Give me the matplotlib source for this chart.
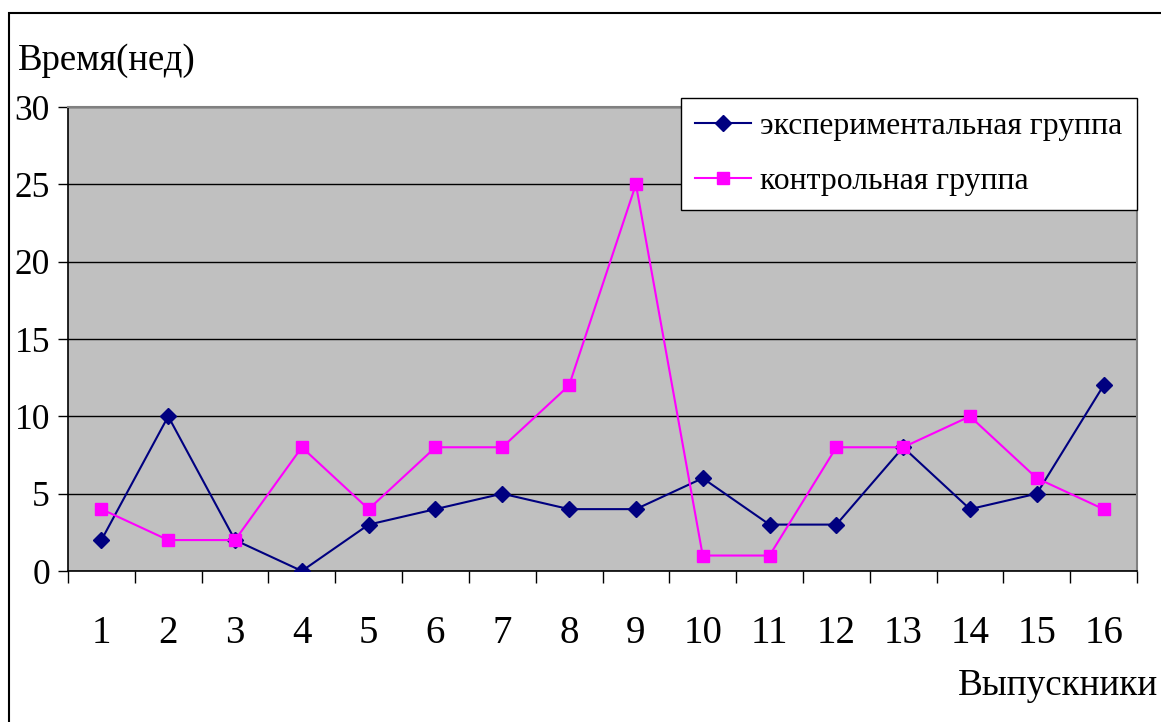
import matplotlib
matplotlib.use("Agg")
import matplotlib.pyplot as plt
from matplotlib.patches import Rectangle
from matplotlib.ticker import FixedLocator

graduates = list(range(1, 17))
experimental = [2, 10, 2, 0, 3, 4, 5, 4, 4, 6, 3, 3, 8, 4, 5, 12]
control = [4, 2, 2, 8, 4, 8, 8, 12, 25, 1, 1, 8, 8, 10, 6, 4]
y_ticks = [0, 5, 10, 15, 20, 25, 30]

plt.rcParams["font.family"] = ["Liberation Serif", "DejaVu Serif"]

W, H = 1161, 722
fig = plt.figure(figsize=(W / 100, H / 100), dpi=100)
fig.patch.set_facecolor("white")

# outer chart frame
fig.patches.append(Rectangle((9 / W, -0.1), 2.0, (H - 13) / H + 0.1,
                             transform=fig.transFigure, fill=False,
                             edgecolor="black", linewidth=1.5, clip_on=False))

ax = fig.add_axes([68 / W, (H - 571) / H, (1137 - 68) / W, (571 - 107) / H])
ax.set_facecolor("#C0C0C0")

ax.set_xlim(0.5, 16.5)
ax.set_ylim(0, 30)
ax.set_yticks(y_ticks)
ax.yaxis.grid(True, color="black", linewidth=1.0)
ax.set_axisbelow(True)

ax.plot(graduates, experimental, color="#000080", linewidth=1.5,
        marker="D", markersize=8, markerfacecolor="#000080",
        markeredgecolor="#000080", label="экспериментальная группа", zorder=3)
ax.plot(graduates, control, color="#FF00FF", linewidth=1.5,
        marker="s", markersize=9, markerfacecolor="#FF00FF",
        markeredgecolor="#FF00FF", label="контрольная группа", zorder=3)

ax.set_xticks(graduates)
ax.set_xticklabels([str(g) for g in graduates], fontsize=28)
ax.xaxis.set_minor_locator(FixedLocator([g + 0.5 for g in range(0, 17)]))
ax.tick_params(axis="x", which="major", length=0, pad=32)
ax.tick_params(axis="x", which="minor", length=8.5, width=1.0, color="black")
ax.tick_params(axis="y", which="major", length=7, width=1.0, labelsize=25.5, pad=6)

for side in ("top", "right"):
    ax.spines[side].set_color("#808080")
    ax.spines[side].set_linewidth(1.5)
for side in ("left", "bottom"):
    ax.spines[side].set_color("black")
    ax.spines[side].set_linewidth(1.2)

fig.text(18 / W, (H - 70) / H, "Время(нед)", fontsize=26.5, ha="left", va="baseline")
fig.text(1158 / W, (H - 695) / H, "Выпускники", fontsize=26.7, ha="right", va="baseline")

leg = ax.legend(loc="upper left", bbox_to_anchor=((681 - 68) / (1137 - 68), 1 + (107 - 98) / (571 - 107)),
                fontsize=22.8, frameon=True, fancybox=False, edgecolor="black",
                framealpha=1.0, borderpad=0.45, labelspacing=0.8,
                handlelength=1.75, handletextpad=0.3, borderaxespad=0)
leg.get_frame().set_linewidth(1.0)

fig.savefig("out.png", dpi=100)
